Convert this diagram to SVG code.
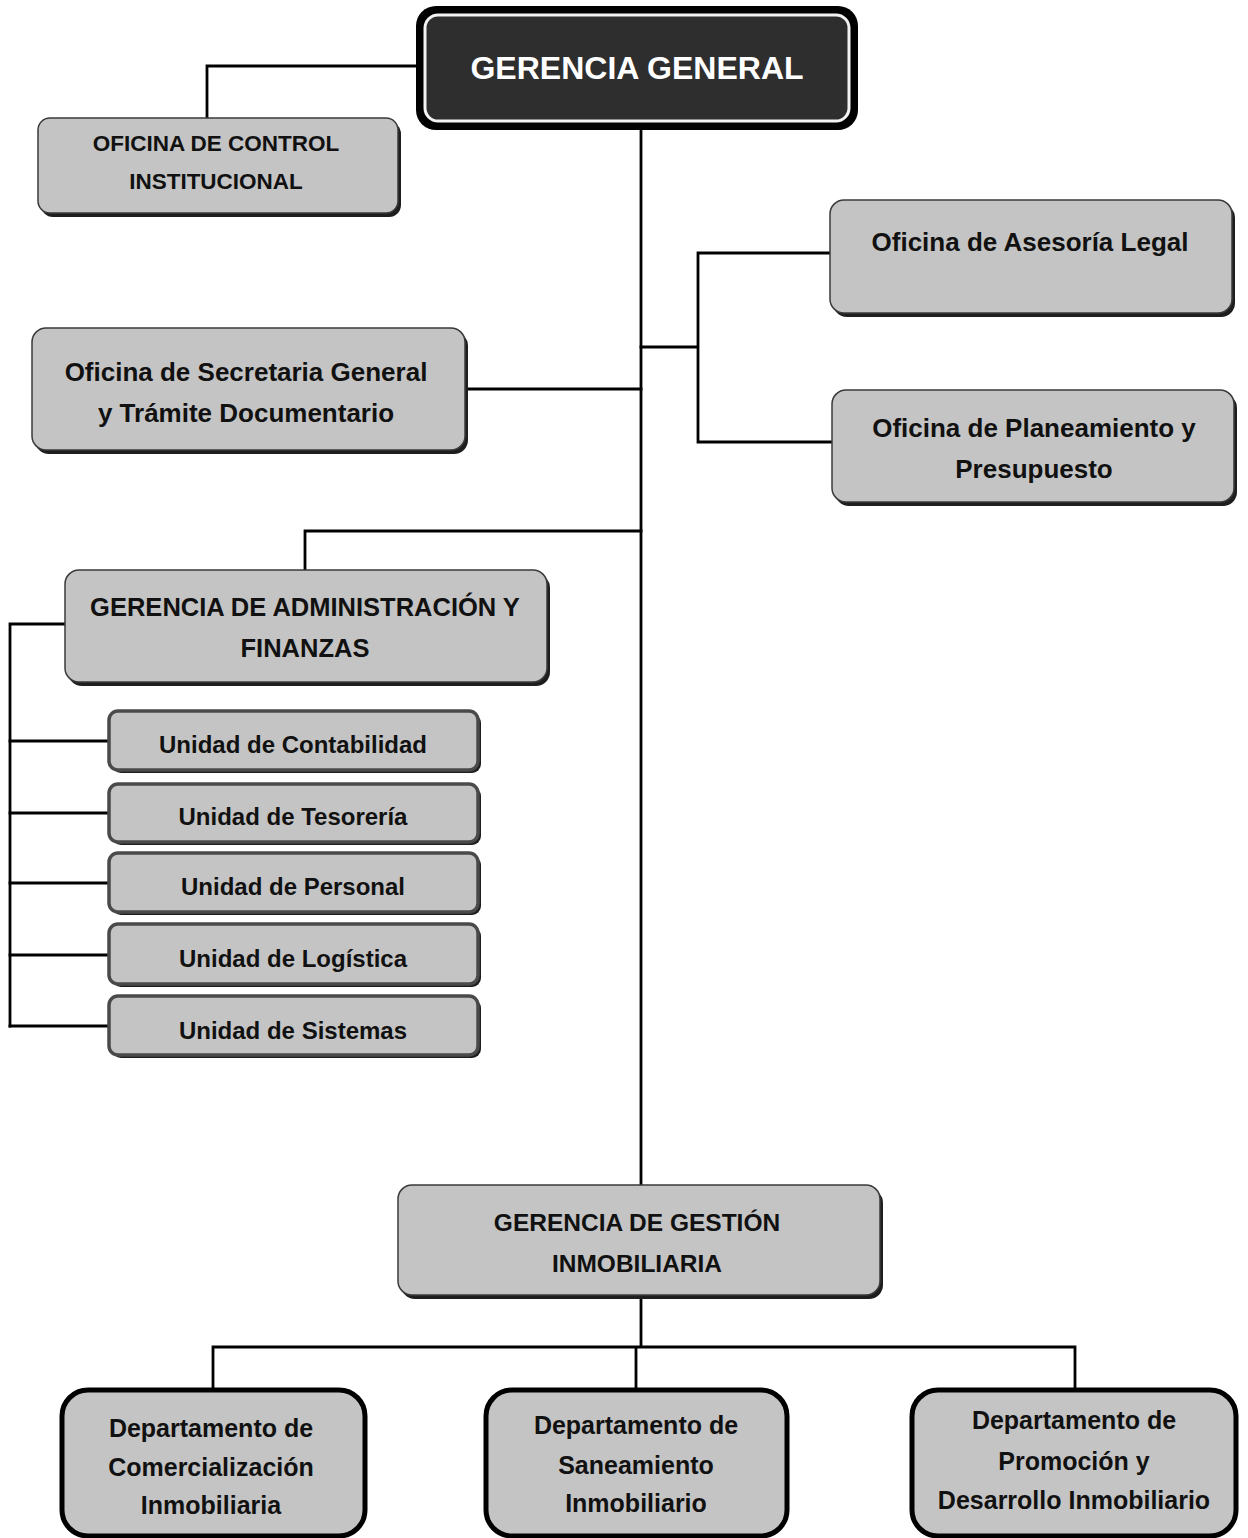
<svg xmlns="http://www.w3.org/2000/svg" width="1248" height="1538" viewBox="0 0 1248 1538">
<style>
.bg{fill:#ffffff}
.box{fill:#c4c4c4;stroke:#3a3a3a;stroke-width:1.5}
.sh{fill:#1e1e1e}
.unit{fill:#c4c4c4;stroke:#4a4a4a;stroke-width:3.5}
.dept{fill:#c4c4c4;stroke:#000;stroke-width:5}
.ln{fill:none;stroke:#000;stroke-width:2.8;stroke-linecap:square}
text{font-family:"Liberation Sans",Arial,sans-serif;font-weight:bold;fill:#111;text-anchor:middle}
.t26{font-size:26px}
.t25{font-size:25.5px}
.t24{font-size:24.5px}
.tu{font-size:24px}
.t22{font-size:22.5px}
.td{font-size:25px}
.gg{font-size:32px;fill:#ffffff}
</style>
<rect class="bg" x="0" y="0" width="1248" height="1538"/>
<g id="connectors">
<path class="ln" d="M641 128 V1185"/>
<path class="ln" d="M207 118 V66 H418"/>
<path class="ln" d="M641 347 H698 M698 253 V442 M698 253 H830 M698 442 H832"/>
<path class="ln" d="M465 389 H641"/>
<path class="ln" d="M641 531 H305 V570"/>
<path class="ln" d="M65 624 H10 V1026"/>
<path class="ln" d="M10 741 H109 M10 813 H109 M10 883 H109 M10 955 H109 M10 1026 H109"/>
<path class="ln" d="M641 1295 V1347 M213 1347 H1075 M213 1347 V1390 M636 1347 V1390 M1075 1347 V1390"/>
</g>
<g id="gerencia-general">
<rect x="416" y="6" width="442" height="124" rx="20" fill="#000"/>
<rect x="425" y="15" width="424" height="106" rx="13" fill="#2e2e2e" stroke="#f2f2f2" stroke-width="3"/>
<text class="gg" x="637" y="79">GERENCIA GENERAL</text>
</g>
<g id="oficina-control">
<rect class="sh" x="41" y="122" width="360" height="95" rx="12"/>
<rect class="box" x="38" y="118" width="360" height="95" rx="12"/>
<text class="t22" x="216" y="151">OFICINA DE CONTROL</text>
<text class="t22" x="216" y="189">INSTITUCIONAL</text>
</g>
<g id="asesoria-legal">
<rect class="sh" x="833" y="204" width="402" height="113" rx="14"/>
<rect class="box" x="830" y="200" width="402" height="113" rx="14"/>
<text class="t26" x="1030" y="251">Oficina de Asesoría Legal</text>
</g>
<g id="planeamiento">
<rect class="sh" x="835" y="394" width="402" height="112" rx="14"/>
<rect class="box" x="832" y="390" width="402" height="112" rx="14"/>
<text class="t26" x="1034" y="437">Oficina de Planeamiento y</text>
<text class="t26" x="1034" y="478">Presupuesto</text>
</g>
<g id="secretaria">
<rect class="sh" x="35" y="332" width="433" height="122" rx="14"/>
<rect class="box" x="32" y="328" width="433" height="122" rx="14"/>
<text class="t26" x="246" y="381">Oficina de Secretaria General</text>
<text class="t26" x="246" y="422">y Trámite Documentario</text>
</g>
<g id="gerencia-administracion">
<rect class="sh" x="68" y="574" width="482" height="112" rx="14"/>
<rect class="box" x="65" y="570" width="482" height="112" rx="14"/>
<text class="t25" x="305" y="616">GERENCIA DE ADMINISTRACIÓN Y</text>
<text class="t25" x="305" y="657">FINANZAS</text>
</g>
<g id="unidad-contabilidad">
<rect class="sh" x="112" y="714" width="369" height="59" rx="9"/>
<rect class="unit" x="109" y="711" width="369" height="59" rx="9"/>
<text class="tu" x="293" y="753">Unidad de Contabilidad</text>
</g>
<g id="unidad-tesoreria">
<rect class="sh" x="112" y="787" width="369" height="58" rx="9"/>
<rect class="unit" x="109" y="784" width="369" height="58" rx="9"/>
<text class="tu" x="293" y="825">Unidad de Tesorería</text>
</g>
<g id="unidad-personal">
<rect class="sh" x="112" y="856" width="369" height="59" rx="9"/>
<rect class="unit" x="109" y="853" width="369" height="59" rx="9"/>
<text class="tu" x="293" y="895">Unidad de Personal</text>
</g>
<g id="unidad-logistica">
<rect class="sh" x="112" y="927" width="369" height="60" rx="9"/>
<rect class="unit" x="109" y="924" width="369" height="60" rx="9"/>
<text class="tu" x="293" y="967">Unidad de Logística</text>
</g>
<g id="unidad-sistemas">
<rect class="sh" x="112" y="999" width="369" height="59" rx="9"/>
<rect class="unit" x="109" y="996" width="369" height="59" rx="9"/>
<text class="tu" x="293" y="1039">Unidad de Sistemas</text>
</g>
<g id="gerencia-gestion-inmobiliaria">
<rect class="sh" x="401" y="1189" width="482" height="110" rx="14"/>
<rect class="box" x="398" y="1185" width="482" height="110" rx="14"/>
<text class="t24" x="637" y="1231">GERENCIA DE GESTIÓN</text>
<text class="t24" x="637" y="1272">INMOBILIARIA</text>
</g>
<g id="depto-comercializacion">
<rect class="dept" x="62" y="1390" width="303" height="146" rx="26"/>
<text class="td" x="211" y="1437">Departamento de</text>
<text class="td" x="211" y="1476">Comercialización</text>
<text class="td" x="211" y="1514">Inmobiliaria</text>
</g>
<g id="depto-saneamiento">
<rect class="dept" x="486" y="1390" width="301" height="146" rx="26"/>
<text class="td" x="636" y="1434">Departamento de</text>
<text class="td" x="636" y="1474">Saneamiento</text>
<text class="td" x="636" y="1512">Inmobiliario</text>
</g>
<g id="depto-promocion">
<rect class="dept" x="912" y="1390" width="324" height="146" rx="26"/>
<text class="td" x="1074" y="1429">Departamento de</text>
<text class="td" x="1074" y="1470">Promoción y</text>
<text class="td" x="1074" y="1509" font-size="24.3">Desarrollo Inmobiliario</text>
</g>
</svg>
